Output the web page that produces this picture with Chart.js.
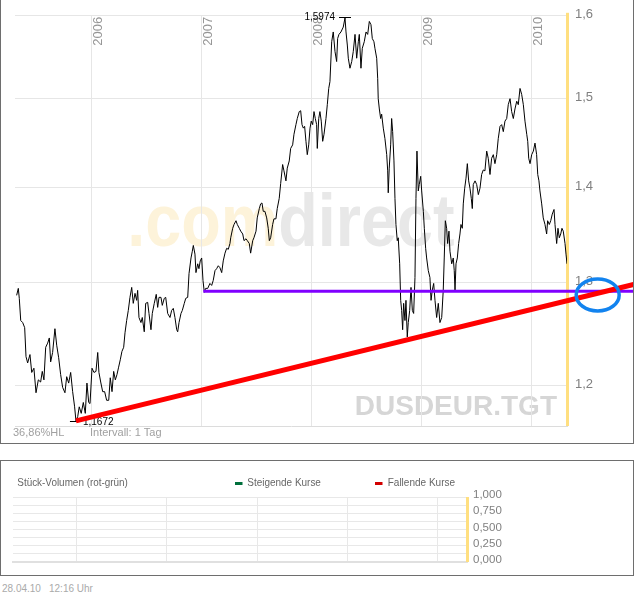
<!DOCTYPE html>
<html lang="de">
<head>
<meta charset="utf-8">
<title>DUSDEUR.TGT</title>
<script src="https://cdn.jsdelivr.net/npm/chart.js@4.4.1/dist/chart.umd.min.js"></script>
<style>
    body { margin: 0; background: #fff; width: 634px; height: 597px; overflow: hidden; position: relative; }
    canvas { display: block; }
    #pricePanel { position: absolute; left: 0; top: 0; width: 634px; height: 444px; box-sizing: border-box; border: 1px solid #6e6e6e; border-top: none; }
    #volumePanel { position: absolute; left: 0; top: 460px; width: 634px; height: 116px; box-sizing: border-box; border: 1px solid #6e6e6e; }
    #stamp { position: absolute; left: 2px; top: 584px; font: 10px 'Liberation Sans', Arial, sans-serif; line-height: 10px; color: #aaa; white-space: nowrap; }
    #stamp span + span { position: absolute; left: 47px; }
</style>
</head>
<body>
<div id="pricePanel"><canvas id="priceChart" width="632" height="443"></canvas></div>
<div id="volumePanel"><canvas id="volumeChart" width="632" height="114"></canvas></div>
<div id="stamp"><span>28.04.10</span><span>12:16 Uhr</span></div>

<script>
// ========================================
// Data (dates as decimal years)
// ========================================
const tradeDates = [
    2005.318, 2005.333, 2005.342, 2005.355, 2005.373, 2005.391, 2005.403, 2005.418, 2005.439, 2005.455,
    2005.475, 2005.494, 2005.515, 2005.536, 2005.551, 2005.566, 2005.582, 2005.600, 2005.615, 2005.627,
    2005.645, 2005.666, 2005.682, 2005.700, 2005.718, 2005.736, 2005.757, 2005.773, 2005.791, 2005.809,
    2005.827, 2005.845, 2005.857, 2005.873, 2005.887, 2005.905, 2005.924, 2005.942, 2005.957, 2005.973,
    2005.985, 2006.003, 2006.021, 2006.039, 2006.055, 2006.066, 2006.082, 2006.100, 2006.118, 2006.136,
    2006.155, 2006.169, 2006.185, 2006.200, 2006.215, 2006.230, 2006.245, 2006.260, 2006.275, 2006.291,
    2006.303, 2006.318, 2006.333, 2006.348, 2006.364, 2006.378, 2006.394, 2006.409, 2006.418, 2006.430,
    2006.448, 2006.460, 2006.478, 2006.491, 2006.509, 2006.521, 2006.539, 2006.551, 2006.569, 2006.587,
    2006.600, 2006.612, 2006.630, 2006.642, 2006.660, 2006.673, 2006.691, 2006.712, 2006.727, 2006.742,
    2006.757, 2006.773, 2006.782, 2006.794, 2006.812, 2006.824, 2006.842, 2006.855, 2006.873, 2006.885,
    2006.903, 2006.915, 2006.924, 2006.939, 2006.948, 2006.964, 2006.975, 2006.987, 2007.000, 2007.012,
    2007.024, 2007.036, 2007.055, 2007.075, 2007.091, 2007.105, 2007.121, 2007.136, 2007.151, 2007.166,
    2007.182, 2007.196, 2007.212, 2007.227, 2007.242, 2007.257,
    2007.264, 2007.282, 2007.294, 2007.312, 2007.324, 2007.342, 2007.355, 2007.373, 2007.385, 2007.403,
    2007.415, 2007.433, 2007.445, 2007.464, 2007.475, 2007.494, 2007.505, 2007.524, 2007.536, 2007.548,
    2007.560, 2007.575, 2007.591, 2007.605, 2007.615, 2007.627, 2007.645, 2007.657, 2007.675, 2007.687,
    2007.705, 2007.718, 2007.736, 2007.748, 2007.766, 2007.778, 2007.796, 2007.809, 2007.827, 2007.839,
    2007.857, 2007.869, 2007.887, 2007.900, 2007.912, 2007.924, 2007.936, 2007.948, 2007.960, 2007.973,
    2007.985, 2007.996, 2008.009, 2008.021, 2008.033, 2008.045, 2008.051, 2008.064, 2008.075, 2008.087,
    2008.100, 2008.112, 2008.130, 2008.142, 2008.155, 2008.166,
    2008.182, 2008.196, 2008.212, 2008.227, 2008.236, 2008.248, 2008.266, 2008.287, 2008.303, 2008.312,
    2008.324, 2008.333, 2008.348, 2008.364, 2008.378, 2008.394, 2008.409, 2008.424, 2008.433, 2008.448,
    2008.460, 2008.478, 2008.494, 2008.509, 2008.524, 2008.539, 2008.551, 2008.566, 2008.575, 2008.591,
    2008.600, 2008.605, 2008.615, 2008.627, 2008.636, 2008.651, 2008.666, 2008.682, 2008.691, 2008.696,
    2008.705, 2008.718, 2008.727, 2008.736, 2008.748, 2008.757, 2008.766, 2008.778, 2008.787, 2008.800,
    2008.809, 2008.818, 2008.827, 2008.836, 2008.848, 2008.857, 2008.869, 2008.878, 2008.891, 2008.903,
    2008.915, 2008.927, 2008.939, 2008.948, 2008.957, 2008.969, 2008.978, 2008.991, 2009.000, 2009.015,
    2009.024, 2009.036, 2009.045, 2009.060, 2009.075, 2009.085, 2009.096, 2009.109, 2009.121,
    2009.136, 2009.151, 2009.166, 2009.182, 2009.196, 2009.205, 2009.215, 2009.227, 2009.236, 2009.248,
    2009.257, 2009.273, 2009.287, 2009.296, 2009.303, 2009.312, 2009.324, 2009.336, 2009.348, 2009.357,
    2009.369, 2009.378, 2009.391, 2009.403, 2009.415, 2009.427, 2009.439, 2009.451, 2009.460, 2009.469,
    2009.485, 2009.500, 2009.515, 2009.530, 2009.545, 2009.560, 2009.575, 2009.591, 2009.605, 2009.621,
    2009.636, 2009.651, 2009.666, 2009.682, 2009.696, 2009.712, 2009.727, 2009.742, 2009.757, 2009.773,
    2009.787, 2009.803, 2009.818, 2009.833, 2009.848, 2009.864, 2009.878, 2009.894, 2009.909, 2009.924,
    2009.939, 2009.955, 2009.964, 2009.973, 2009.985, 2010.000, 2010.015, 2010.030, 2010.045, 2010.055,
    2010.066, 2010.075, 2010.091, 2010.105, 2010.121, 2010.136, 2010.145, 2010.160, 2010.173, 2010.187,
    2010.203, 2010.212, 2010.227, 2010.239, 2010.251, 2010.264, 2010.275, 2010.287, 2010.303, 2010.312,
    2010.321
];

const closePrices = [
    1.287, 1.294, 1.284, 1.262, 1.260, 1.255, 1.227, 1.221, 1.229, 1.212,
    1.216, 1.193, 1.205, 1.203, 1.213, 1.205, 1.236, 1.240, 1.245, 1.222,
    1.231, 1.254, 1.238, 1.226, 1.210, 1.198, 1.193, 1.208, 1.202, 1.212,
    1.194, 1.180, 1.1672, 1.171, 1.180, 1.174, 1.184, 1.174, 1.202, 1.184,
    1.183, 1.216, 1.212, 1.213, 1.231, 1.212, 1.203, 1.194, 1.194, 1.186,
    1.186, 1.207, 1.194, 1.213, 1.205, 1.210, 1.217, 1.224, 1.232, 1.236,
    1.250, 1.262, 1.272, 1.285, 1.295, 1.279, 1.289, 1.282, 1.292, 1.265,
    1.260, 1.265, 1.251, 1.279, 1.280, 1.269, 1.253, 1.269, 1.279, 1.288,
    1.275, 1.285, 1.285, 1.277, 1.284, 1.285, 1.269, 1.265, 1.272, 1.274,
    1.265, 1.253, 1.251, 1.260, 1.269, 1.272, 1.279, 1.284, 1.285, 1.309,
    1.325, 1.332, 1.338, 1.329, 1.310, 1.319, 1.314, 1.322, 1.325, 1.302,
    1.290, 1.294, 1.294, 1.299, 1.297, 1.302, 1.312, 1.314, 1.317, 1.315,
    1.310, 1.322, 1.330, 1.335, 1.334, 1.340,
    1.346, 1.356, 1.360, 1.364, 1.360, 1.356, 1.353, 1.350, 1.343, 1.345,
    1.343, 1.340, 1.330, 1.343, 1.346, 1.353, 1.367, 1.377, 1.382, 1.383,
    1.374, 1.374, 1.367, 1.356, 1.343, 1.346, 1.360, 1.366, 1.366, 1.377,
    1.388, 1.404, 1.425, 1.418, 1.407, 1.421, 1.429, 1.443, 1.447, 1.459,
    1.470, 1.477, 1.485, 1.486, 1.470, 1.466, 1.468, 1.451, 1.436, 1.447,
    1.466, 1.474, 1.470, 1.485, 1.477, 1.470, 1.443, 1.477, 1.485, 1.474,
    1.451, 1.459, 1.477, 1.493, 1.512, 1.520,
    1.568, 1.580, 1.556, 1.544, 1.572, 1.577, 1.580, 1.586, 1.5974, 1.580,
    1.564, 1.548, 1.536, 1.544, 1.556, 1.577, 1.548, 1.568, 1.577, 1.536,
    1.560, 1.568, 1.580, 1.577, 1.593, 1.589, 1.572, 1.568, 1.560, 1.548,
    1.524, 1.500, 1.488, 1.477, 1.482, 1.466, 1.454, 1.436, 1.418, 1.394,
    1.421, 1.447, 1.477, 1.462, 1.429, 1.388, 1.360, 1.343, 1.346, 1.319,
    1.282, 1.272, 1.253, 1.279, 1.262, 1.282, 1.246, 1.260, 1.272, 1.295,
    1.272, 1.269, 1.305, 1.388, 1.440, 1.396, 1.403, 1.412, 1.396, 1.374,
    1.356, 1.335, 1.325, 1.312, 1.305, 1.282, 1.292, 1.299, 1.282,
    1.265, 1.279, 1.260, 1.265, 1.292, 1.325, 1.364, 1.356, 1.340, 1.353,
    1.332, 1.319, 1.325, 1.312, 1.292, 1.319, 1.325, 1.340, 1.350, 1.360,
    1.356, 1.382, 1.399, 1.410, 1.426, 1.407, 1.399, 1.388, 1.377, 1.403,
    1.407, 1.403, 1.392, 1.399, 1.414, 1.419, 1.418, 1.440, 1.432, 1.414,
    1.432, 1.436, 1.426, 1.436, 1.454, 1.468, 1.470, 1.462, 1.474, 1.477,
    1.493, 1.500, 1.485, 1.477, 1.488, 1.497, 1.493, 1.512, 1.505, 1.493,
    1.474, 1.459, 1.451, 1.432, 1.426, 1.436, 1.440, 1.449, 1.436, 1.414,
    1.407, 1.396, 1.382, 1.367, 1.360, 1.350, 1.364, 1.360, 1.364, 1.371,
    1.376, 1.360, 1.340, 1.356, 1.346, 1.350, 1.356, 1.353, 1.340, 1.329,
    1.319
];

// Drawn-in lines (support trend, horizontal level) and the circled crossing
const trendDates = [2005.857, 2010.930];
const trendValues = [1.1672, 1.298];
const levelDates = [2007.015, 2010.930];
const levelValues = [1.291, 1.291];
const markerCenter = [2010.60, 1.2874];

// Axes
const yearTicks = [2006, 2007, 2008, 2009, 2010];
const priceTicks = [1.2, 1.3, 1.4, 1.5, 1.6];
const volumeTicks = [0, 0.125, 0.25, 0.375, 0.5, 0.625, 0.75, 0.875, 1];
const dateRange = [2005.303, 2010.321];
const priceRange = [1.1625, 1.6];

const FONT = "'Liberation Sans', Arial, sans-serif";

document.addEventListener('DOMContentLoaded', function () {
    Chart.defaults.font.family = FONT;
    initPriceChart();
    initVolumeChart();
});

// Helpers
function toPoints(xs, ys) {
    return xs.map((x, i) => ({ x: x, y: ys[i] }));
}

function formatDe(value, digits) {
    return value.toFixed(digits).replace('.', ',');
}

// text squeezed to a given glyph width
function fillFitted(ctx, text, x, y, width) {
    const m = ctx.measureText(text);
    const w = m.actualBoundingBoxLeft + m.actualBoundingBoxRight;
    ctx.save();
    ctx.translate(x, y);
    ctx.scale(width / w, 1);
    ctx.fillText(text, m.actualBoundingBoxLeft, 0);
    ctx.restore();
}

function yearAxis(height, gridColor, border) {
    return {
        type: 'linear',
        min: dateRange[0],
        max: dateRange[1],
        offset: false,
        afterBuildTicks: function (scale) {
            scale.ticks = yearTicks.map(v => ({ value: v }));
        },
        afterFit: function (scale) { scale.height = height; },
        ticks: { display: false },
        grid: { color: gridColor, drawTicks: false, offset: false },
        border: border
    };
}

// ========================================
// Price chart
// ========================================
const priceDecor = {
    id: 'priceDecor',
    beforeDraw(chart) {
        const { ctx, chartArea } = chart;
        // watermark
        ctx.save();
        ctx.font = 'bold 75px ' + FONT;
        ctx.textBaseline = 'alphabetic';
        const partA = '.com', partB = 'direct';
        const m = ctx.measureText(partA + partB);
        const glyphW = m.actualBoundingBoxLeft + m.actualBoundingBoxRight;
        const sx = 323 / glyphW;
        const cx = (chartArea.left + chartArea.right) / 2 + 2;
        const left = cx - 323 / 2;
        ctx.translate(left, chartArea.top + 230);
        ctx.scale(sx, 1);
        ctx.fillStyle = '#fdf3da';
        ctx.fillText(partA, m.actualBoundingBoxLeft, 0);
        ctx.fillStyle = '#e8e8e8';
        ctx.fillText(partB, m.actualBoundingBoxLeft + ctx.measureText(partA).width, 0);
        ctx.restore();

        ctx.save();
        ctx.font = 'bold 28px ' + FONT;
        ctx.fillStyle = '#d6d6d6';
        ctx.textAlign = 'right';
        ctx.fillText('DUSDEUR.TGT', chartArea.right - 10, chartArea.bottom - 11);
        ctx.restore();
    },
    beforeDatasetsDraw(chart) {
        const { ctx, chartArea, scales } = chart;
        ctx.save();
        // yellow bar at the right edge
        ctx.fillStyle = '#ffdf80';
        ctx.fillRect(chartArea.right - 1, chartArea.top - 3, 3, chartArea.bottom - chartArea.top + 3);

        // year labels, rotated, inside the plot
        ctx.font = '13px ' + FONT;
        ctx.fillStyle = '#969696';
        ctx.textAlign = 'right';
        ctx.textBaseline = 'alphabetic';
        yearTicks.forEach(function (year) {
            const gx = scales.x.getPixelForValue(year);
            ctx.save();
            ctx.translate(gx, chartArea.top);
            ctx.rotate(-Math.PI / 2);
            ctx.fillText(String(year), -1, 10);
            ctx.restore();
        });

        // high / low marks
        const hi = Math.max.apply(null, closePrices);
        const lo = Math.min.apply(null, closePrices);
        const hx = scales.x.getPixelForValue(tradeDates[closePrices.indexOf(hi)]);
        const hy = scales.y.getPixelForValue(hi);
        const lx = scales.x.getPixelForValue(tradeDates[closePrices.indexOf(lo)]);
        const ly = scales.y.getPixelForValue(lo);
        ctx.strokeStyle = '#000';
        ctx.lineWidth = 1;
        ctx.beginPath();
        ctx.moveTo(hx - 6, Math.round(hy) - 0.5);
        ctx.lineTo(hx + 6, Math.round(hy) - 0.5);
        ctx.moveTo(lx - 6, Math.round(ly) + 0.5);
        ctx.lineTo(lx + 6, Math.round(ly) + 0.5);
        ctx.stroke();
        ctx.font = '10px ' + FONT;
        ctx.fillStyle = '#000';
        ctx.textBaseline = 'middle';
        ctx.textAlign = 'right';
        ctx.fillText(formatDe(hi, 4), hx - 10, hy - 1);
        ctx.textAlign = 'left';
        ctx.fillText(formatDe(lo, 4), lx + 7, ly + 1);

        // notes under the plot
        ctx.font = '11px ' + FONT;
        ctx.fillStyle = '#a0a0a0';
        ctx.textBaseline = 'alphabetic';
        ctx.fillText(formatDe((hi - lo) / lo * 100, 2) + '%HL', 12, chartArea.bottom + 9.5);
        ctx.fillText('Intervall: 1 Tag', 89, chartArea.bottom + 9.5);
        ctx.restore();
    },
    afterDatasetsDraw(chart) {
        const { ctx, scales } = chart;
        const ex = scales.x.getPixelForValue(markerCenter[0]);
        const ey = scales.y.getPixelForValue(markerCenter[1]);
        ctx.save();
        ctx.strokeStyle = '#1283ef';
        ctx.lineWidth = 3.5;
        ctx.beginPath();
        ctx.ellipse(ex, ey, 21.5, 16, 0, 0, Math.PI * 2);
        ctx.stroke();
        ctx.restore();
    }
};

function initPriceChart() {
    const canvas = document.getElementById('priceChart');
    new Chart(canvas, {
        type: 'line',
        data: {
            datasets: [
                {
                    label: 'Trendlinie',
                    data: toPoints(trendDates, trendValues),
                    borderColor: '#ff0000',
                    borderWidth: 5,
                    pointRadius: 0,
                    clip: false,
                    order: 0
                },
                {
                    label: 'Linie',
                    data: toPoints(levelDates, levelValues),
                    borderColor: '#8000ff',
                    borderWidth: 3,
                    pointRadius: 0,
                    clip: false,
                    order: 1
                },
                {
                    label: 'DUSDEUR.TGT',
                    data: toPoints(tradeDates, closePrices),
                    borderColor: '#000000',
                    borderWidth: 1,
                    pointRadius: 0,
                    tension: 0,
                    order: 2
                }
            ]
        },
        options: {
            responsive: false,
            animation: false,
            events: [],
            layout: { padding: { left: 14, top: 14, right: 0, bottom: 0 } },
            plugins: {
                legend: { display: false },
                tooltip: { enabled: false }
            },
            scales: {
                x: yearAxis(17, '#e6e6e6', { color: '#dcdcdc' }),
                y: {
                    type: 'logarithmic',
                    position: 'right',
                    min: priceRange[0],
                    max: priceRange[1],
                    afterBuildTicks: function (scale) {
                        scale.ticks = priceTicks.map(v => ({ value: v }));
                    },
                    afterFit: function (scale) { scale.width = 66; },
                    ticks: {
                        padding: 8,
                        labelOffset: -1,
                        color: '#808080',
                        font: { size: 13 },
                        callback: v => formatDe(v, 1)
                    },
                    grid: { color: '#e6e6e6', drawTicks: false },
                    border: { display: false }
                }
            }
        },
        plugins: [priceDecor]
    });
}

// ========================================
// Volume chart (no volume data)
// ========================================
const volumeDecor = {
    id: 'volumeDecor',
    beforeDatasetsDraw(chart) {
        const { ctx, chartArea } = chart;
        ctx.save();
        ctx.fillStyle = '#ffdf80';
        ctx.fillRect(chartArea.right - 1, chartArea.top, 3, chartArea.bottom - chartArea.top);

        ctx.font = '11px ' + FONT;
        ctx.fillStyle = '#666';
        ctx.textBaseline = 'alphabetic';
        fillFitted(ctx, 'Stück-Volumen (rot-grün)', 16.3, 25, 110);
        fillFitted(ctx, 'Steigende Kurse', 246.3, 25, 73.5);
        fillFitted(ctx, 'Fallende Kurse', 386.7, 25, 67.3);
        ctx.fillStyle = '#00703c';
        ctx.fillRect(234, 21, 7.5, 3);
        ctx.fillStyle = '#d20000';
        ctx.fillRect(374, 21, 7.5, 3);
        ctx.restore();
    }
};

function initVolumeChart() {
    const canvas = document.getElementById('volumeChart');
    new Chart(canvas, {
        type: 'line',
        data: {
            datasets: [
                { label: 'Steigende Kurse', data: [], borderColor: '#00703c' },
                { label: 'Fallende Kurse', data: [], borderColor: '#d20000' }
            ]
        },
        options: {
            responsive: false,
            animation: false,
            events: [],
            layout: { padding: { left: 12, top: 36, right: 0, bottom: 0 } },
            plugins: {
                legend: { display: false },
                tooltip: { enabled: false }
            },
            scales: {
                x: yearAxis(13, '#e8e8e8', { color: '#e0e0e0', width: 2 }),
                y: {
                    position: 'right',
                    min: 0,
                    max: 1,
                    afterBuildTicks: function (scale) {
                        scale.ticks = volumeTicks.map(v => ({ value: v }));
                    },
                    afterFit: function (scale) { scale.width = 166; },
                    ticks: {
                        autoSkip: false,
                        padding: 6,
                        labelOffset: -2,
                        color: '#808080',
                        font: { size: 11.5 },
                        callback: v => (Math.abs(v * 4 - Math.round(v * 4)) < 1e-9 ? formatDe(v, 3) : '')
                    },
                    grid: { color: '#e8e8e8', drawTicks: false },
                    border: { display: false }
                }
            }
        },
        plugins: [volumeDecor]
    });
}
</script>
</body>
</html>
